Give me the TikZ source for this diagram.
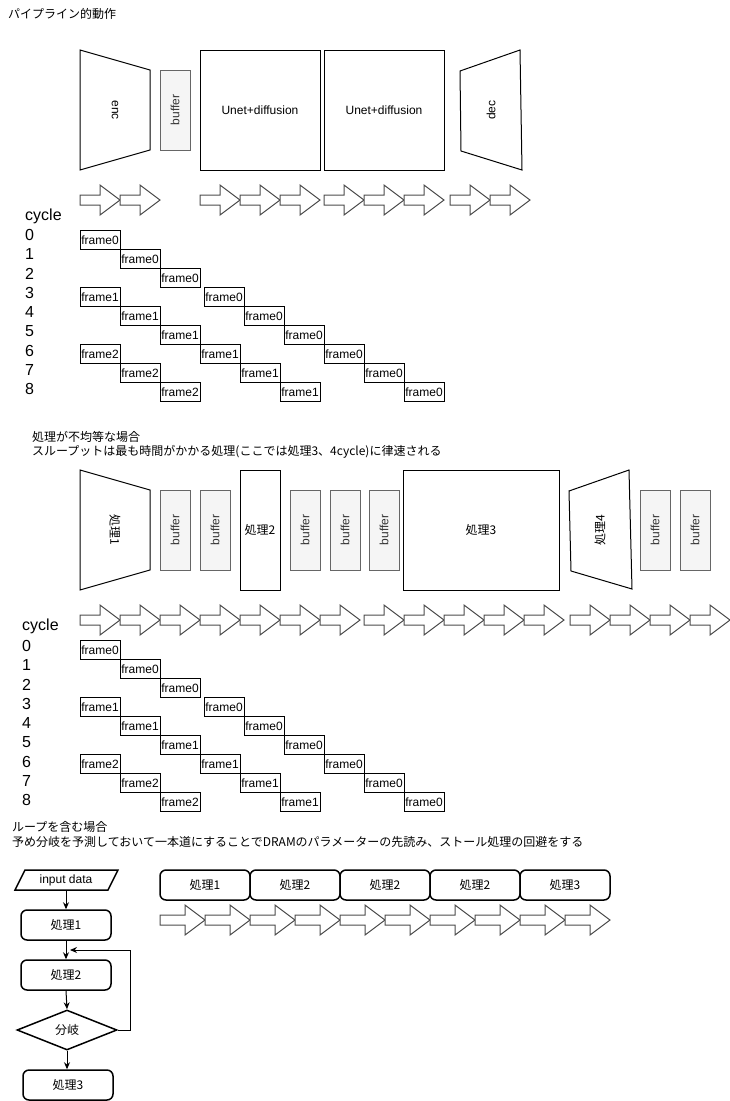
\documentclass[tikz,border=0pt]{standalone}
\usepackage{fontspec}
\setmainfont{Liberation Sans}
\newfontfamily\jp{Noto Sans CJK JP}
\usetikzlibrary{shapes.geometric,arrows.meta}
\definecolor{bufgray}{HTML}{F5F5F5}
\definecolor{bufline}{HTML}{666666}
\definecolor{buftext}{HTML}{333333}

\begin{document}
\begin{tikzpicture}[x=1pt,y=-1pt,
  every node/.style={font=\fontsize{12}{14}\selectfont}]
\tikzset{
  titre/.style={anchor=west, inner sep=0, font=\jp\fontsize{12}{14}\selectfont},
  etage/.style={draw, line width=1pt},
  bufbox/.style={draw=bufline, fill=bufgray, text=buftext, minimum width=80pt, minimum height=30pt, inner sep=0, rotate=90},
  bloc/.style={draw, line width=1pt, inner sep=0},
  framebox/.style={draw, anchor=north west, inner xsep=1pt, inner ysep=0, text width=38pt, minimum height=19pt, line width=0.8pt},
  cyclelbl/.style={anchor=west, inner sep=0, font=\fontsize{16}{18}\selectfont},
  procbox/.style={draw, rounded corners=6pt, line width=1.5pt, minimum width=90pt, minimum height=30pt, font=\jp\fontsize{12}{14}\selectfont},
  flowline/.style={draw, line width=1pt, -{Stealth[length=7pt,width=6pt]}},
  pics/flowarrow/.style={code={
    \draw[draw=black!70, fill=white, line width=1pt] (0,-5) -- (#1,-5) -- (#1,-15) -- ({#1+20},0) -- (#1,15) -- (#1,5) -- (0,5) -- cycle;}}
}
\useasboundingbox (0,0) rectangle (730,1101);

% pipeline
\node[titre] (T1) at (8,14) {\jp パイプライン的動作};
\draw[etage] (80,50) -- (150,70) -- (150,150) -- (80,170) -- cycle;
\node[rotate=-90] (enc) at (115,110) {enc};
\node[bufbox] (B1) at (175,110) {buffer};
\node[bloc, minimum width=120pt, minimum height=120pt] (U1) at (260,110) {Unet+diffusion};
\node[bloc, minimum width=120pt, minimum height=120pt] (U2) at (384,110) {Unet+diffusion};
\draw[etage] (460,71) -- (520,50) -- (522,170) -- (461,151) -- cycle;
\node[rotate=90] (dec) at (491,110) {dec};
\foreach \ax in {80,120,200,240,280,324,364,404,450,490}
  \pic at (\ax,200) {flowarrow=20};

\node[cyclelbl] (C1) at (25,216) {cycle};
\foreach \n in {0,...,8}
  \node[cyclelbl] (Ca\n) at (25,{235+19.3*\n}) {\n};
\node[cyclelbl] (C2) at (22,626) {cycle};
\foreach \n in {0,...,8}
  \node[cyclelbl] (Cb\n) at (22,{646+19.25*\n}) {\n};

% frames (same timing for both cases)
\foreach \haut/\sec in {230/a,640/b}{
  \foreach \fx/\row/\fk [count=\i] in {80/0/0,120/1/0,160/2/0,80/3/1,204/3/0,120/4/1,244/4/0,160/5/1,284/5/0,80/6/2,200/6/1,324/6/0,120/7/2,240/7/1,364/7/0,160/8/2,280/8/1,404/8/0}
    \node[framebox] (F\sec\i) at (\fx,{\haut+19*\row}) {frame\fk};
}

% uneven stages
\node[titre] (T2) at (32,437) {処理が不均等な場合};
\node[titre] (T3) at (32,452) {スループットは最も時間がかかる処理(ここでは処理3、4cycle)に律速される};
\draw[etage] (80,470) -- (150,490) -- (150,570) -- (80,590) -- cycle;
\node[rotate=-90, font=\jp\fontsize{12}{14}\selectfont] (P1) at (115,530) {処理1};
\node[bufbox] (B2) at (175,530) {buffer};
\node[bufbox] (B3) at (215,530) {buffer};
\node[bloc, minimum width=40pt, minimum height=120pt, font=\jp\fontsize{12}{14}\selectfont] (P2) at (260,530) {処理2};
\node[bufbox] (B4) at (305,530) {buffer};
\node[bufbox] (B5) at (345,530) {buffer};
\node[bufbox] (B6) at (384,530) {buffer};
\node[bloc, minimum width=156pt, minimum height=120pt, font=\jp\fontsize{12}{14}\selectfont] (P3) at (481,530) {処理3};
\draw[etage] (569,491) -- (629,470) -- (632,589) -- (571,571) -- cycle;
\node[rotate=90, font=\jp\fontsize{12}{14}\selectfont] (P4) at (600,530) {処理4};
\node[bufbox] (B7) at (655,530) {buffer};
\node[bufbox] (B8) at (695,530) {buffer};
\foreach \ax in {80,120,160,200,240,280,320,364,404,444,484,524,570,610,650,690}
  \pic at (\ax,620) {flowarrow=20};

% loop
\node[titre] (T4) at (12,827) {ループを含む場合};
\node[titre] (T5) at (12,842) {予め分岐を予測しておいて一本道にすることでDRAMのパラメーターの先読み、ストール処理の回避をする};
\draw[line width=1.5pt] (25,870) -- (118,870) -- (108,890) -- (15,890) -- cycle;
\node[minimum height=20pt, inner sep=0] (input) at (66,880) {input data};
\node[procbox] (L1) at (66,925) {処理1};
\node[procbox] (L2) at (66,975) {処理2};
\node[diamond, draw, line width=1.5pt, minimum width=100pt, minimum height=40pt, inner sep=0, font=\jp\fontsize{12}{14}\selectfont] (br) at (67,1030) {分岐};
\node[procbox] (L3) at (68,1085) {処理3};
\coordinate (loopin) at (70,950);
\coordinate (loopx) at (130,950);
\draw[flowline] (input.south) -- (L1.north);
\draw[flowline] (L1.south) -- (L2.north);
\draw[flowline] (L2.south) -- (br.north);
\draw[flowline] (br.south) -- (br.south |- L3.north);
\draw[flowline] (br.east) -- (br.east -| loopx) |- (loopin);

\node[procbox] (R1) at (205,885) {処理1};
\node[procbox] (R2) at (295,885) {処理2};
\node[procbox] (R3) at (385,885) {処理2};
\node[procbox] (R4) at (475,885) {処理2};
\node[procbox] (R5) at (565,885) {処理3};
\foreach \i in {0,...,9}
  \pic at ({160+45*\i},920) {flowarrow=25};
\end{tikzpicture}
\end{document}
